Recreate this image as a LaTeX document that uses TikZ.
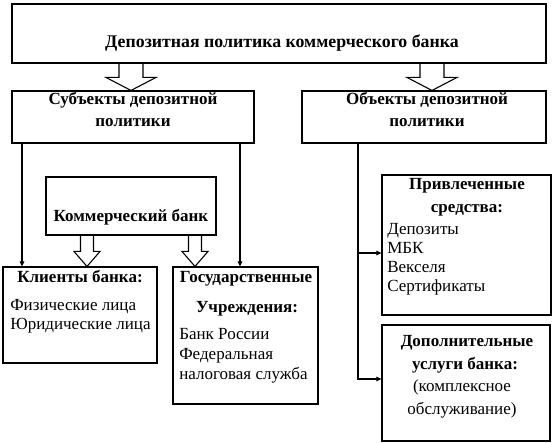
\documentclass[tikz,border=0pt]{standalone}
\usepackage{fontspec}
\setmainfont{Liberation Serif}
\usetikzlibrary{arrows.meta,calc}
\newcommand{\headfont}{\fontsize{17}{20}\selectfont\bfseries}
\newcommand{\itemfont}{\fontsize{17}{20}\selectfont}
\tikzset{every picture/.style={line width=1.1pt}}
\tikzset{
box/.style={draw, inner sep=0pt},
head/.style={anchor=base, inner sep=0.75pt, font=\headfont},
item/.style={anchor=base west, inner sep=0.75pt, font=\itemfont},
thin arrow/.style={-{Triangle[length=5pt,width=4.5pt]}},
block arrow/.style n args={3}{to path={let \p1=(\tikztostart), \p2=(\tikztotarget) in
  (\x1-#1,\y1) -- (\x1-#1,\y2+#3) -- (\x1-#2,\y2+#3) -- (\x1,\y2) -- (\x1+#2,\y2+#3) -- (\x1+#1,\y2+#3) -- (\x1+#1,\y1)}}
}
\begin{document}
\begin{tikzpicture}[x=1pt,y=-1pt]
\useasboundingbox (0,0) rectangle (555,443);

%Shape: Rectangle [dep]
\node[box, minimum width=534pt, minimum height=59pt] (dep) at (279,33.5) {};
%Shape: Rectangle [subj]
\node[box, minimum width=242pt, minimum height=52pt] (subj) at (133,117) {};
%Shape: Rectangle [obj]
\node[box, minimum width=244pt, minimum height=52pt] (obj) at (424,117) {};
%Shape: Rectangle [komm]
\node[box, minimum width=170pt, minimum height=58pt] (komm) at (131,206) {};
%Shape: Rectangle [klient]
\node[box, minimum width=154pt, minimum height=96pt] (klient) at (80,315) {};
%Shape: Rectangle [gos]
\node[box, minimum width=145pt, minimum height=137pt] (gos) at (245.5,335.5) {};
%Shape: Rectangle [privl]
\node[box, minimum width=169pt, minimum height=140pt] (privl) at (466.5,245) {};
%Shape: Rectangle [dop]
\node[box, minimum width=168pt, minimum height=116pt] (dop) at (466,383) {};

% guide coordinates
\coordinate (xsl) at (131,0);
\coordinate (xsr) at (432,0);
\coordinate (xkl) at (87,0);
\coordinate (xkr) at (195,0);
\coordinate (xa) at (22,0);
\coordinate (xb) at (240,0);
\coordinate (xc) at (358,0);
\coordinate (yp) at (0,253);
\coordinate (yd) at (0,379);

%Block Arrows
\draw[block arrow={12pt}{25pt}{13pt}] (dep.south -| xsl) to (subj.north -| xsl);
\draw[block arrow={12pt}{25pt}{13pt}] (dep.south -| xsr) to (obj.north -| xsr);
\draw[block arrow={6.5pt}{13pt}{15pt}] (komm.south -| xkl) to (klient.north -| xkl);
\draw[block arrow={6.5pt}{13pt}{15pt}] (komm.south -| xkr) to (gos.north -| xkr);
%Straight Lines
\draw[thin arrow] (subj.south -| xa) -- (klient.north -| xa);
\draw[thin arrow] (subj.south -| xb) -- (gos.north -| xb);
\draw[thin arrow] (obj.south -| xc) |- (dop.west |- yd);
\draw[thin arrow] (xc |- yp) -- (privl.west |- yp);

% Text Node
\node[head, font=\fontsize{17.8}{20}\selectfont\bfseries] (t-dep) at (282,48) {Депозитная политика коммерческого банка};
% Text Node
\node[head] (t-subj1) at (133,105) {Субъекты депозитной};
\node[head] (t-subj2) at (133,127) {политики};
% Text Node
\node[head] (t-obj1) at (427,105) {Объекты депозитной};
\node[head] (t-obj2) at (427,127) {политики};
% Text Node
\node[head] (t-komm) at (131,222) {Коммерческий банк};
% Text Node
\node[head] (t-klient) at (80,283) {Клиенты банка:};
\node[item] (t-fiz) at (9,311) {Физические лица};
\node[item] (t-jur) at (9,330) {Юридические лица};
% Text Node
\node[head] (t-gos1) at (246,283) {Государственные};
\node[head] (t-gos2) at (247,313) {Учреждения:};
\node[item] (t-cb) at (178,340) {Банк России};
\node[item] (t-fed) at (178,360) {Федеральная};
\node[item] (t-nal) at (178,380) {налоговая служба};
% Text Node
\node[head] (t-privl1) at (467,190) {Привлеченные};
\node[head] (t-privl2) at (467,213) {средства:};
\node[item] (t-dep1) at (386,235) {Депозиты};
\node[item] (t-mbk) at (386,254) {МБК};
\node[item] (t-veks) at (386,273) {Векселя};
\node[item] (t-sert) at (386,292) {Сертификаты};
% Text Node
\node[head] (t-dop1) at (467,347) {Дополнительные};
\node[head] (t-dop2) at (465,370) {услуги банка:};
\node[head, font=\itemfont] (t-dop3) at (462,392) {(комплексное};
\node[head, font=\itemfont] (t-dop4) at (462,415) {обслуживание)};

\end{tikzpicture}
\end{document}
